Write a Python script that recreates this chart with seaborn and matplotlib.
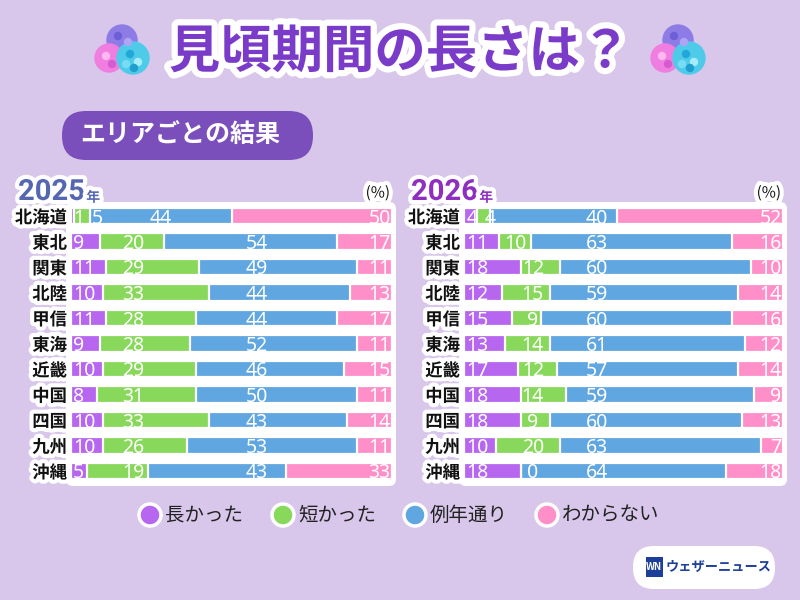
import matplotlib
matplotlib.use("Agg")
import matplotlib.pyplot as plt
import matplotlib.patheffects as pe
from matplotlib.patches import FancyBboxPatch, Circle
import seaborn as sns
import pandas as pd

# data (%)
areas = ["北海道", "東北", "関東", "北陸", "甲信", "東海", "近畿", "中国", "四国", "九州", "沖縄"]
answers = ["長かった", "短かった", "例年通り", "わからない"]

long_2025 = [1, 9, 11, 10, 11, 9, 10, 8, 10, 10, 5]
short_2025 = [5, 20, 29, 33, 28, 28, 29, 31, 33, 26, 19]
usual_2025 = [44, 54, 49, 44, 44, 52, 46, 50, 43, 53, 43]
unknown_2025 = [50, 17, 11, 13, 17, 11, 15, 11, 14, 11, 33]

long_2026 = [4, 11, 18, 12, 15, 13, 17, 18, 18, 10, 18]
short_2026 = [4, 10, 12, 15, 9, 14, 12, 14, 9, 20, 0]
usual_2026 = [40, 63, 60, 59, 60, 61, 57, 59, 60, 63, 64]
unknown_2026 = [52, 16, 10, 14, 16, 12, 14, 9, 13, 7, 18]

colors = ["#b766f0", "#88d85c", "#60a6e0", "#ff8fc8"]
bg_color = "#d8c7ea"

sns.set_theme(style="white")
plt.rcParams['font.family'] = ['Noto Sans CJK JP', 'DejaVu Sans']

fig = plt.figure(figsize=(8, 6), dpi=100)
fig.patch.set_facecolor(bg_color)

# overlay in pixel coordinates for decorations
bg = fig.add_axes([0, 0, 1, 1], zorder=0)
bg.set_xlim(0, 800)
bg.set_ylim(600, 0)
bg.axis("off")

halo = [pe.withStroke(linewidth=6, foreground="white")]


def hydrangea(cx, cy):
    for dx, dy, r, c in [(0, -10, 15, "#8e7ce6"), (-13, 8, 14, "#ef7ee0"), (11, 8, 16, "#4fcbea")]:
        bg.add_patch(Circle((cx + dx, cy + dy), r, color=c, zorder=1))
    for dx, dy, c in [(-4, -14, "#6f5fd6"), (6, -8, "#b0a4f4"), (-16, 6, "#ffb8f0"), (-10, 14, "#d75bd0"),
                      (8, 4, "#22a8d8"), (16, 12, "#a6ecfa"), (12, 18, "#1f9fd0"), (4, 14, "#7adcf4")]:
        bg.add_patch(Circle((cx + dx, cy + dy), 3.5, color=c, zorder=1))


hydrangea(122, 50)
hydrangea(678, 50)

bg.text(400, 52, "見頃期間の長さは？", ha="center", va="center", fontsize=37, fontweight="bold",
        color="#7a3cc8", path_effects=[pe.withStroke(linewidth=9, foreground="white")])

bg.add_patch(FancyBboxPatch((62, 111), 251, 49, boxstyle="round,pad=0,rounding_size=24",
                            fc="#7b4fbb", ec="none"))
bg.text(80, 136, "エリアごとの結果", ha="left", va="center", fontsize=18, fontweight="bold", color="white")


def draw_panel(left_px, right_px, year, year_color, vals, green_col, blue_col):
    width_px = right_px - left_px
    bg.add_patch(FancyBboxPatch((left_px - 5, 202), width_px + 9, 284,
                                boxstyle="round,pad=0,rounding_size=7", fc="white", ec="none"))
    ax = fig.add_axes([left_px / 800, 1 - 483.75 / 600, width_px / 800, 280.5 / 600], zorder=2)
    ax.patch.set_alpha(0)

    df = pd.DataFrame({"area": areas})
    cum = [0] * len(areas)
    starts = []
    for v in vals:
        starts.append(list(cum))
        cum = [a + b for a, b in zip(cum, v)]
        df[f"cum{len(starts)}"] = cum

    # overlay cumulative bars, widest first
    for i in reversed(range(4)):
        sns.barplot(data=df, x=f"cum{i + 1}", y="area", order=areas, color=colors[i],
                    width=0.65, edgecolor="white", linewidth=1.6, errorbar=None,
                    orient="h", saturation=1, ax=ax)

    ax.set_xlim(0, 100)
    ax.set_ylim(10.5, -0.5)
    ax.set_xlabel("")
    ax.set_ylabel("")
    ax.set_xticks([])
    ax.set_yticks([])
    sns.despine(ax=ax, left=True, bottom=True)

    unit = 3.3 * 320 / width_px  # approx width of one digit in data units
    fs = 14
    for r in range(len(areas)):
        prev_right = -10
        for i in range(4):
            s, w = starts[i][r], vals[i][r]
            txt = str(w)
            tw = unit * len(txt)
            if i == 0:
                xl = s + 0.8
            elif i == 3:
                xl = 100 - 0.6 - tw
            else:
                col = green_col if i == 1 else blue_col
                if w == 0 or (s + tw / 2 <= col <= s + w - tw / 2):
                    xc = col
                else:
                    xc = s + w / 2
                xl = max(xc - tw / 2, prev_right + 2.5)
            prev_right = xl + tw
            ax.text(xl + tw / 2, r, txt, ha="center", va="center_baseline", color="white",
                    fontsize=fs, family=["Noto Sans", "DejaVu Sans"])

        bg.text(left_px - 4, 216 + 25.5 * r, areas[r], ha="right", va="center_baseline",
                fontsize=12.5, fontweight="bold", color="#111111", path_effects=halo)

    t = bg.text(left_px - 53, 200, str(year), ha="left", va="baseline", fontsize=21,
                fontweight="bold", color=year_color, path_effects=halo,
                family=["Roboto", "DejaVu Sans"])
    bg.annotate("年", xy=(1, 0), xycoords=t, xytext=(1, 1), textcoords="offset points",
                ha="left", va="bottom", fontsize=10, fontweight="bold", color=year_color,
                path_effects=halo)
    bg.text(right_px - 2, 193, "(%)", ha="right", va="center", fontsize=11, color="#111111",
            path_effects=halo)
    return ax


draw_panel(71, 392, 2025, "#5667b2", [long_2025, short_2025, usual_2025, unknown_2025], 19.3, 58)
draw_panel(464, 783, 2026, "#8e2fc0", [long_2026, short_2026, usual_2026, unknown_2026], 21.6, 41.7)

# legend
for x, lab, c in zip([150, 283, 415, 547], answers, colors):
    bg.add_patch(Circle((x, 515), 11, fc=c, ec="white", lw=2.5, zorder=3))
    bg.text(x + 15, 515, lab, ha="left", va="center", fontsize=14, color="#222222")

# logo
bg.add_patch(FancyBboxPatch((633, 546), 142, 43, boxstyle="round,pad=0,rounding_size=21",
                            fc="white", ec="none"))
bg.add_patch(FancyBboxPatch((646, 557), 17, 20, boxstyle="square,pad=0", fc="#1d3f9a", ec="none"))
bg.text(654, 567, "WN", ha="center", va="center", fontsize=7, fontweight="bold",
        color="white", style="italic")
bg.text(666, 567, "ウェザーニュース", ha="left", va="center", fontsize=9.5, fontweight="bold",
        color="#1d3f9a")

fig.savefig("out.png", dpi=100, facecolor=fig.get_facecolor())
